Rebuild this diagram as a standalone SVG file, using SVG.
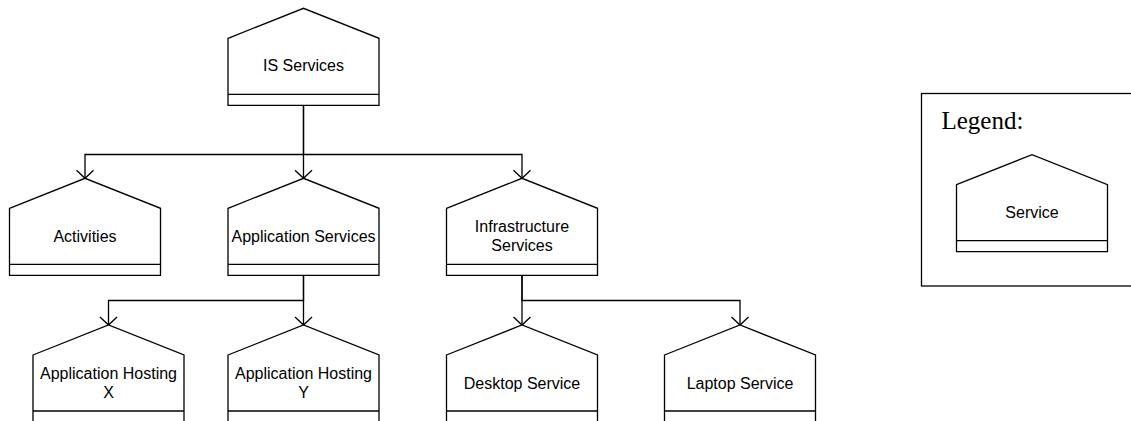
<svg xmlns="http://www.w3.org/2000/svg" width="1131" height="421" viewBox="0 0 1131 421">
<style>
.shape{fill:#fff;stroke:#000;stroke-width:1.3;stroke-linejoin:miter}
.div{stroke:#000;stroke-width:1.3}
.lbl{font-family:"Liberation Sans",Arial,sans-serif;font-size:16px;fill:#000;text-anchor:middle}
.conn{fill:none;stroke:#000;stroke-width:1.3}
.legend{font-family:"Liberation Serif","Times New Roman",serif;font-size:25px;fill:#000}
</style>
<defs>
<marker id="arr" markerUnits="userSpaceOnUse" markerWidth="20" markerHeight="20" viewBox="-10 -10 20 20" refX="0" refY="0" orient="auto" overflow="visible">
<path d="M-8,-8.5 L0,0 L-8,8.5" fill="none" stroke="#000" stroke-width="1.3"/>
</marker>
</defs>
<rect width="1131" height="421" fill="#fff"/>

<g id="connectors">
<path class="conn" d="M303.5,105.3 V154.5 H85 V178.3" marker-end="url(#arr)"/>
<path class="conn" d="M303.5,105.3 V178.3" marker-end="url(#arr)"/>
<path class="conn" d="M303.5,154.5 H522 V178.3" marker-end="url(#arr)"/>
<path class="conn" d="M303.5,275.3 V300.5 H108.5 V325" marker-end="url(#arr)"/>
<path class="conn" d="M303.5,275.3 V325" marker-end="url(#arr)"/>
<path class="conn" d="M522,275.3 V300.5 H740 V325" marker-end="url(#arr)"/>
<path class="conn" d="M522,275.3 V325" marker-end="url(#arr)"/>
</g>

<g id="is-services">
<path class="shape" d="M228,38.3 L303.5,8.3 L379,38.3 L379,105.3 L228,105.3 Z"/>
<line class="div" x1="228" y1="94.3" x2="379" y2="94.3"/>
<text class="lbl" x="303.5" y="71">IS Services</text>
</g>

<g id="activities">
<path class="shape" d="M9.5,208.3 L85,178.3 L160.5,208.3 L160.5,275.3 L9.5,275.3 Z"/>
<line class="div" x1="9.5" y1="264.3" x2="160.5" y2="264.3"/>
<text class="lbl" x="85" y="241.5">Activities</text>
</g>

<g id="application-services">
<path class="shape" d="M228,208.3 L303.5,178.3 L379,208.3 L379,275.3 L228,275.3 Z"/>
<line class="div" x1="228" y1="264.3" x2="379" y2="264.3"/>
<text class="lbl" x="303.5" y="241.5">Application Services</text>
</g>

<g id="infrastructure-services">
<path class="shape" d="M446.5,208.3 L522,178.3 L597.5,208.3 L597.5,275.3 L446.5,275.3 Z"/>
<line class="div" x1="446.5" y1="264.3" x2="597.5" y2="264.3"/>
<text class="lbl" x="522" y="232">Infrastructure</text>
<text class="lbl" x="522" y="251">Services</text>
</g>

<g id="application-hosting-x">
<path class="shape" d="M33,355 L108.5,325 L184,355 L184,422 L33,422 Z"/>
<line class="div" x1="33" y1="411" x2="184" y2="411"/>
<text class="lbl" x="108.5" y="379">Application Hosting</text>
<text class="lbl" x="108.5" y="397.5">X</text>
</g>

<g id="application-hosting-y">
<path class="shape" d="M228,355 L303.5,325 L379,355 L379,422 L228,422 Z"/>
<line class="div" x1="228" y1="411" x2="379" y2="411"/>
<text class="lbl" x="303.5" y="379">Application Hosting</text>
<text class="lbl" x="303.5" y="397.5">Y</text>
</g>

<g id="desktop-service">
<path class="shape" d="M446.5,355 L522,325 L597.5,355 L597.5,422 L446.5,422 Z"/>
<line class="div" x1="446.5" y1="411" x2="597.5" y2="411"/>
<text class="lbl" x="522" y="388.5">Desktop Service</text>
</g>

<g id="laptop-service">
<path class="shape" d="M664.5,355 L740,325 L815.5,355 L815.5,422 L664.5,422 Z"/>
<line class="div" x1="664.5" y1="411" x2="815.5" y2="411"/>
<text class="lbl" x="740" y="388.5">Laptop Service</text>
</g>

<g id="legend">
<rect x="921.5" y="93.5" width="220" height="192.5" fill="#fff" stroke="#000" stroke-width="1.3"/>
<text class="legend" x="941.5" y="129">Legend:</text>
<g id="legend-service">
<path class="shape" d="M956.5,184.7 L1032,154.7 L1107.5,184.7 L1107.5,251.7 L956.5,251.7 Z"/>
<line class="div" x1="956.5" y1="240.7" x2="1107.5" y2="240.7"/>
<text class="lbl" x="1032" y="218">Service</text>
</g>
</g>
</svg>
